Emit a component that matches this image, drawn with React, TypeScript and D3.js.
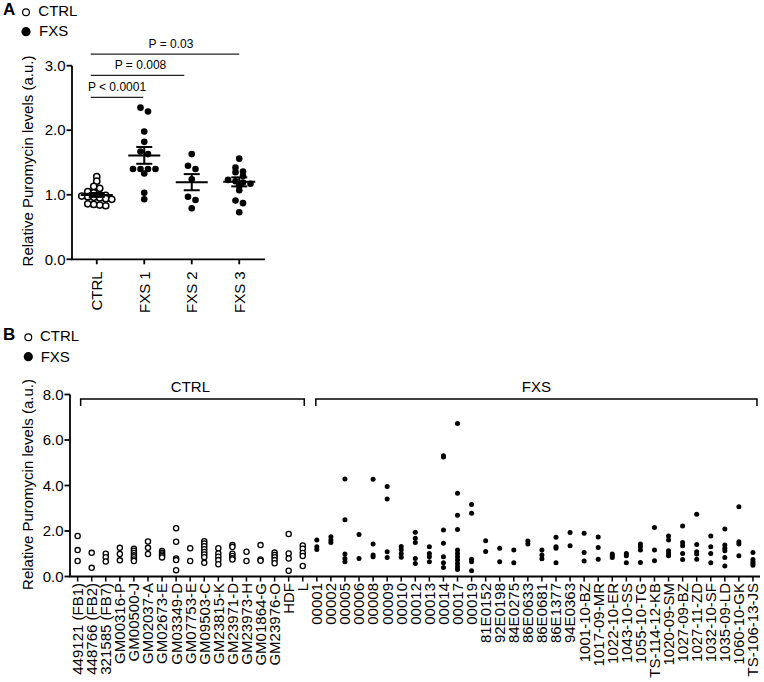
import React from "react";
import * as d3 from "d3";

// ---------- Panel A data ----------
const groupsA = ["CTRL", "FXS 1", "FXS 2", "FXS 3"];
const ctrlA = [1.28, 1.21, 1.13, 1.1, 1.05, 1.03, 1.0, 0.99, 0.98, 0.97, 0.96, 0.95, 0.94, 0.93, 0.86, 0.85, 0.84, 0.83];
const fxs1A = [2.35, 2.29, 1.98, 1.82, 1.67, 1.63, 1.4, 1.4, 1.4, 1.4, 1.33, 1.03, 0.93];
const fxs2A = [1.63, 1.45, 1.4, 1.24, 0.97, 0.92, 0.79];
const fxs3A = [1.56, 1.42, 1.36, 1.35, 1.29, 1.23, 1.21, 1.19, 1.17, 1.14, 1.07, 0.91, 0.87, 0.73];
const meansA = [0.997, 1.61, 1.195, 1.2];
const semA = [0.03, 0.13, 0.125, 0.07];
const ticksA = [0, 1, 2, 3];
const compTo = ["FXS 1", "FXS 2", "FXS 3"];
const compLabels = ["P < 0.0001", "P = 0.008", "P = 0.03"];
const compY = [2.51, 2.85, 3.18];

// ---------- Panel B data ----------
const ctrlNamesB = ["449121 (FB1)", "448766 (FB2)", "321585 (FB7)", "GM00316-P", "GM00500-J", "GM02037-A", "GM02673-E", "GM03349-D", "GM07753-E", "GM09503-C", "GM23815-K", "GM23971-D", "GM23973-H", "GM01864-G", "GM23976-O", "HDF", "L"];
const ctrlValuesB = [
  [1.78, 1.16, 0.68], [1.04, 0.38], [1.0, 0.85, 0.66], [1.26, 0.99, 0.71],
  [1.22, 1.13, 1.03, 0.93, 0.85, 0.75, 0.68], [1.54, 1.26, 0.99], [1.12, 1.04, 0.97, 0.9, 0.84],
  [2.12, 1.53, 0.79, 0.72, 0.28], [1.24, 0.68], [1.55, 1.45, 1.33, 1.2, 1.08, 0.97, 0.85, 0.6],
  [1.24, 1.01, 0.87, 0.72, 0.54], [1.38, 1.3, 1.0, 0.9, 0.8, 0.75], [1.09, 0.68], [1.38, 0.75, 0.69],
  [1.05, 0.95, 0.85, 0.72, 0.58], [1.87, 1.01, 0.79, 0.25], [1.36, 1.22, 1.03, 0.9, 0.46],
];
const fxsNamesB = ["00001", "00002", "00005", "00006", "00008", "00009", "00010", "00012", "00013", "00014", "00017", "00019", "81E0152", "92E0198", "84E0275", "86E0633", "86E0681", "86E1377", "94E0363", "1001-10-BZ", "1017-09-MR", "1022-10-ER", "1043-10-SS", "1055-10-TG", "TS-114-12-KB", "1020-09-SM", "1027-09-BZ", "1027-11-ZD", "1032-10-SF", "1035-09-LD", "1060-10-GK", "TS-106-13-JS"];
const fxsValuesB = [
  [1.6, 1.31, 1.19], [1.75, 1.6, 1.49], [4.29, 2.49, 0.99, 0.79, 0.65], [1.85, 0.79],
  [4.28, 1.43, 0.94, 0.87], [3.96, 3.41, 1.09, 0.84], [1.32, 1.18, 1.0, 0.85], [1.94, 1.68, 1.49, 0.79, 0.57],
  [1.31, 1.01, 0.87, 0.65], [5.31, 5.25, 2.04, 1.46, 0.87, 0.6, 0.4],
  [6.72, 3.66, 2.69, 2.07, 1.16, 1.01, 0.87, 0.72, 0.57, 0.43, 0.31], [3.16, 2.78, 0.76, 0.65, 0.25],
  [1.57, 1.1], [1.24, 0.65], [1.16, 0.6], [1.56, 1.43], [1.17, 0.95, 0.78], [1.72, 1.31, 1.24, 0.6],
  [1.93, 1.35], [1.9, 1.06, 0.68], [1.74, 1.28, 0.76], [0.99, 0.91, 0.84], [1.01, 0.91, 0.6],
  [1.43, 1.31, 1.16, 0.62], [2.15, 1.16, 0.69], [1.78, 1.6, 1.13, 1.01, 0.91], [2.22, 1.5, 1.35, 1.01, 0.75],
  [2.74, 1.41, 1.09, 0.99, 0.76], [1.78, 1.31, 1.01, 0.6], [2.09, 1.38, 1.24, 1.13, 0.84, 0.46],
  [3.07, 1.53, 1.43, 0.91], [1.06, 0.75, 0.65, 0.57, 0.5],
];
const ticksB = [0, 2, 4, 6, 8];

const FONT = "'Liberation Sans', Arial, Helvetica, sans-serif";
const fmt = d3.format(".1f");

function rowLayout(values: number[], y: (v: number) => number, tol: number, spacing: number) {
  const sorted = [...values].sort((a, b) => b - a);
  const rows: { y0: number; items: number[] }[] = [];
  let cur: { y0: number; items: number[] } | null = null;
  for (const v of sorted) {
    const py = y(v);
    if (cur && py - cur.y0 <= tol) cur.items.push(v);
    else { cur = { y0: py, items: [v] }; rows.push(cur); }
  }
  const out: { v: number; dx: number }[] = [];
  rows.forEach((r) => r.items.forEach((v, k) => out.push({ v, dx: (k - (r.items.length - 1) / 2) * spacing })));
  return out;
}

export default function App() {
  // Panel A scales
  const xA = d3.scalePoint<string>().domain(groupsA).range([73, 263]).padding(0.5);
  const yA = d3.scaleLinear().domain([0, 3]).range([259.3, 65.7]);
  const seriesA = [ctrlA, fxs1A, fxs2A, fxs3A];

  // Panel B scales
  const allNames = [...ctrlNamesB, ...fxsNamesB];
  const xB = d3.scalePoint<string>().domain(allNames).range([70.6, 760]).padding(0.5);
  const yB = d3.scaleLinear().domain([0, 8]).range([576.5, 394.5]);

  const axisW = 1.8;

  return (
    <svg width={764} height={682} style={{ position: "absolute", left: 0, top: 0, background: "#fff" }} fontFamily={FONT}>
      {/* ---------- Panel A ---------- */}
      <text x={3} y={14.5} fontSize={17} fontWeight="bold">A</text>
      <circle cx={26} cy={12.3} r={3.4} fill="none" stroke="#000" strokeWidth={1.2} />
      <text x={38.3} y={16.3} fontSize={15}>CTRL</text>
      <circle cx={26} cy={31.7} r={4.6} fill="#000" />
      <text x={39} y={36.3} fontSize={15}>FXS</text>

      {/* y title */}
      <text transform={`translate(33.3,161) rotate(-90)`} textAnchor="middle" fontSize={15}>Relative Puromycin levels (a.u.)</text>

      {/* axes */}
      <line x1={72} x2={72} y1={yA(0)} y2={yA(3)} stroke="#000" strokeWidth={axisW} />
      <line x1={71.1} x2={265} y1={yA(0)} y2={yA(0)} stroke="#000" strokeWidth={axisW} />
      {ticksA.map((t) => (
        <g key={t}>
          <line x1={66.5} x2={72} y1={yA(t)} y2={yA(t)} stroke="#000" strokeWidth={axisW} />
          <text x={65.5} y={yA(t)} dy="0.35em" textAnchor="end" fontSize={15}>{fmt(t)}</text>
        </g>
      ))}
      {groupsA.map((g) => (
        <g key={g}>
          <line x1={xA(g)} x2={xA(g)} y1={yA(0)} y2={yA(0) + 5} stroke="#000" strokeWidth={axisW} />
          <text transform={`translate(${xA(g)},${yA(0) + 12}) rotate(-90)`} textAnchor="end" dy="0.36em" fontSize={15}>{g}</text>
        </g>
      ))}

      {/* points */}
      {seriesA.map((vals, gi) => {
        const cx = xA(groupsA[gi]) as number;
        const pts = rowLayout(vals, yA, 4, gi === 0 ? 6 : 7.5);
        return (
          <g key={gi}>
            {pts.map((p, i) =>
              gi === 0 ? (
                <circle key={i} cx={cx + p.dx} cy={yA(p.v)} r={3.1} fill="#fff" stroke="#000" strokeWidth={1.5} />
              ) : (
                <circle key={i} cx={cx + p.dx} cy={yA(p.v)} r={3.3} fill="#000" />
              )
            )}
          </g>
        );
      })}

      {/* mean and SEM */}
      {groupsA.map((g, gi) => {
        const cx = xA(g) as number;
        const m = meansA[gi], s = semA[gi];
        return (
          <g key={g} stroke="#000" strokeWidth={2}>
            <line x1={cx - 16} x2={cx + 16} y1={yA(m)} y2={yA(m)} />
            <line x1={cx} x2={cx} y1={yA(m + s)} y2={yA(m - s)} />
            <line x1={cx - 8} x2={cx + 8} y1={yA(m + s)} y2={yA(m + s)} />
            <line x1={cx - 8} x2={cx + 8} y1={yA(m - s)} y2={yA(m - s)} />
          </g>
        );
      })}

      {/* comparisons */}
      {compTo.map((to, i) => {
        const x1 = (xA("CTRL") as number) - 6;
        const x2 = (xA(to) as number) - [1, 7.5, 0][i];
        return (
          <g key={to}>
            <line x1={x1} x2={x2} y1={yA(compY[i])} y2={yA(compY[i])} stroke="#222" strokeWidth={1.3} />
            <text x={(x1 + x2) / 2 + [0, 3, 6][i]} y={yA(compY[i]) - 6} textAnchor="middle" fontSize={12}>{compLabels[i]}</text>
          </g>
        );
      })}

      {/* ---------- Panel B ---------- */}
      <text x={3} y={339.5} fontSize={17} fontWeight="bold">B</text>
      <circle cx={28.3} cy={337.3} r={3.4} fill="none" stroke="#000" strokeWidth={1.2} />
      <text x={40} y={340.7} fontSize={15}>CTRL</text>
      <circle cx={28.3} cy={356.7} r={4.6} fill="#000" />
      <text x={40.7} y={361.7} fontSize={15}>FXS</text>

      <text transform={`translate(33.3,484.5) rotate(-90)`} textAnchor="middle" fontSize={15}>Relative Puromycin levels (a.u.)</text>

      <line x1={70} x2={70} y1={yB(0)} y2={yB(8)} stroke="#000" strokeWidth={axisW} />
      <line x1={69.1} x2={760} y1={yB(0)} y2={yB(0)} stroke="#000" strokeWidth={axisW} />
      {ticksB.map((t) => (
        <g key={t}>
          <line x1={64.5} x2={70} y1={yB(t)} y2={yB(t)} stroke="#000" strokeWidth={axisW} />
          <text x={63.5} y={yB(t)} dy="0.35em" textAnchor="end" fontSize={15}>{fmt(t)}</text>
        </g>
      ))}
      {allNames.map((n) => (
        <g key={n}>
          <line x1={xB(n)} x2={xB(n)} y1={yB(0)} y2={yB(0) + 5} stroke="#000" strokeWidth={1.5} />
          <text transform={`translate(${xB(n)},${yB(0) + 6.5}) rotate(-90)`} textAnchor="end" dy="0.36em" fontSize={15}>{n}</text>
        </g>
      ))}

      {/* brackets */}
      {[
        { label: "CTRL", first: ctrlNamesB[0], last: ctrlNamesB[ctrlNamesB.length - 1] },
        { label: "FXS", first: fxsNamesB[0], last: fxsNamesB[fxsNamesB.length - 1] },
      ].map((b) => {
        const x1 = (xB(b.first) as number) + (b.label === "CTRL" ? 3 : -1);
        const x2 = (xB(b.last) as number) + (b.label === "CTRL" ? 1.5 : 4);
        const yy = 399;
        return (
          <g key={b.label}>
            <path d={`M${x1},${yy + 7}V${yy}H${x2}V${yy + 7}`} fill="none" stroke="#000" strokeWidth={1.5} />
            <text x={(x1 + x2) / 2 + (b.label === "CTRL" ? -2 : 0)} y={391.7} textAnchor="middle" fontSize={15}>{b.label}</text>
          </g>
        );
      })}

      {ctrlValuesB.map((vals, i) => (
        <g key={"c" + i}>
          {vals.map((v, j) => (
            <circle key={j} cx={xB(ctrlNamesB[i])} cy={yB(v)} r={2.6} fill="#fff" stroke="#000" strokeWidth={1.3} />
          ))}
        </g>
      ))}
      {fxsValuesB.map((vals, i) => (
        <g key={"f" + i}>
          {vals.map((v, j) => (
            <circle key={j} cx={xB(fxsNamesB[i])} cy={yB(v)} r={2.5} fill="#000" />
          ))}
        </g>
      ))}
    </svg>
  );
}
